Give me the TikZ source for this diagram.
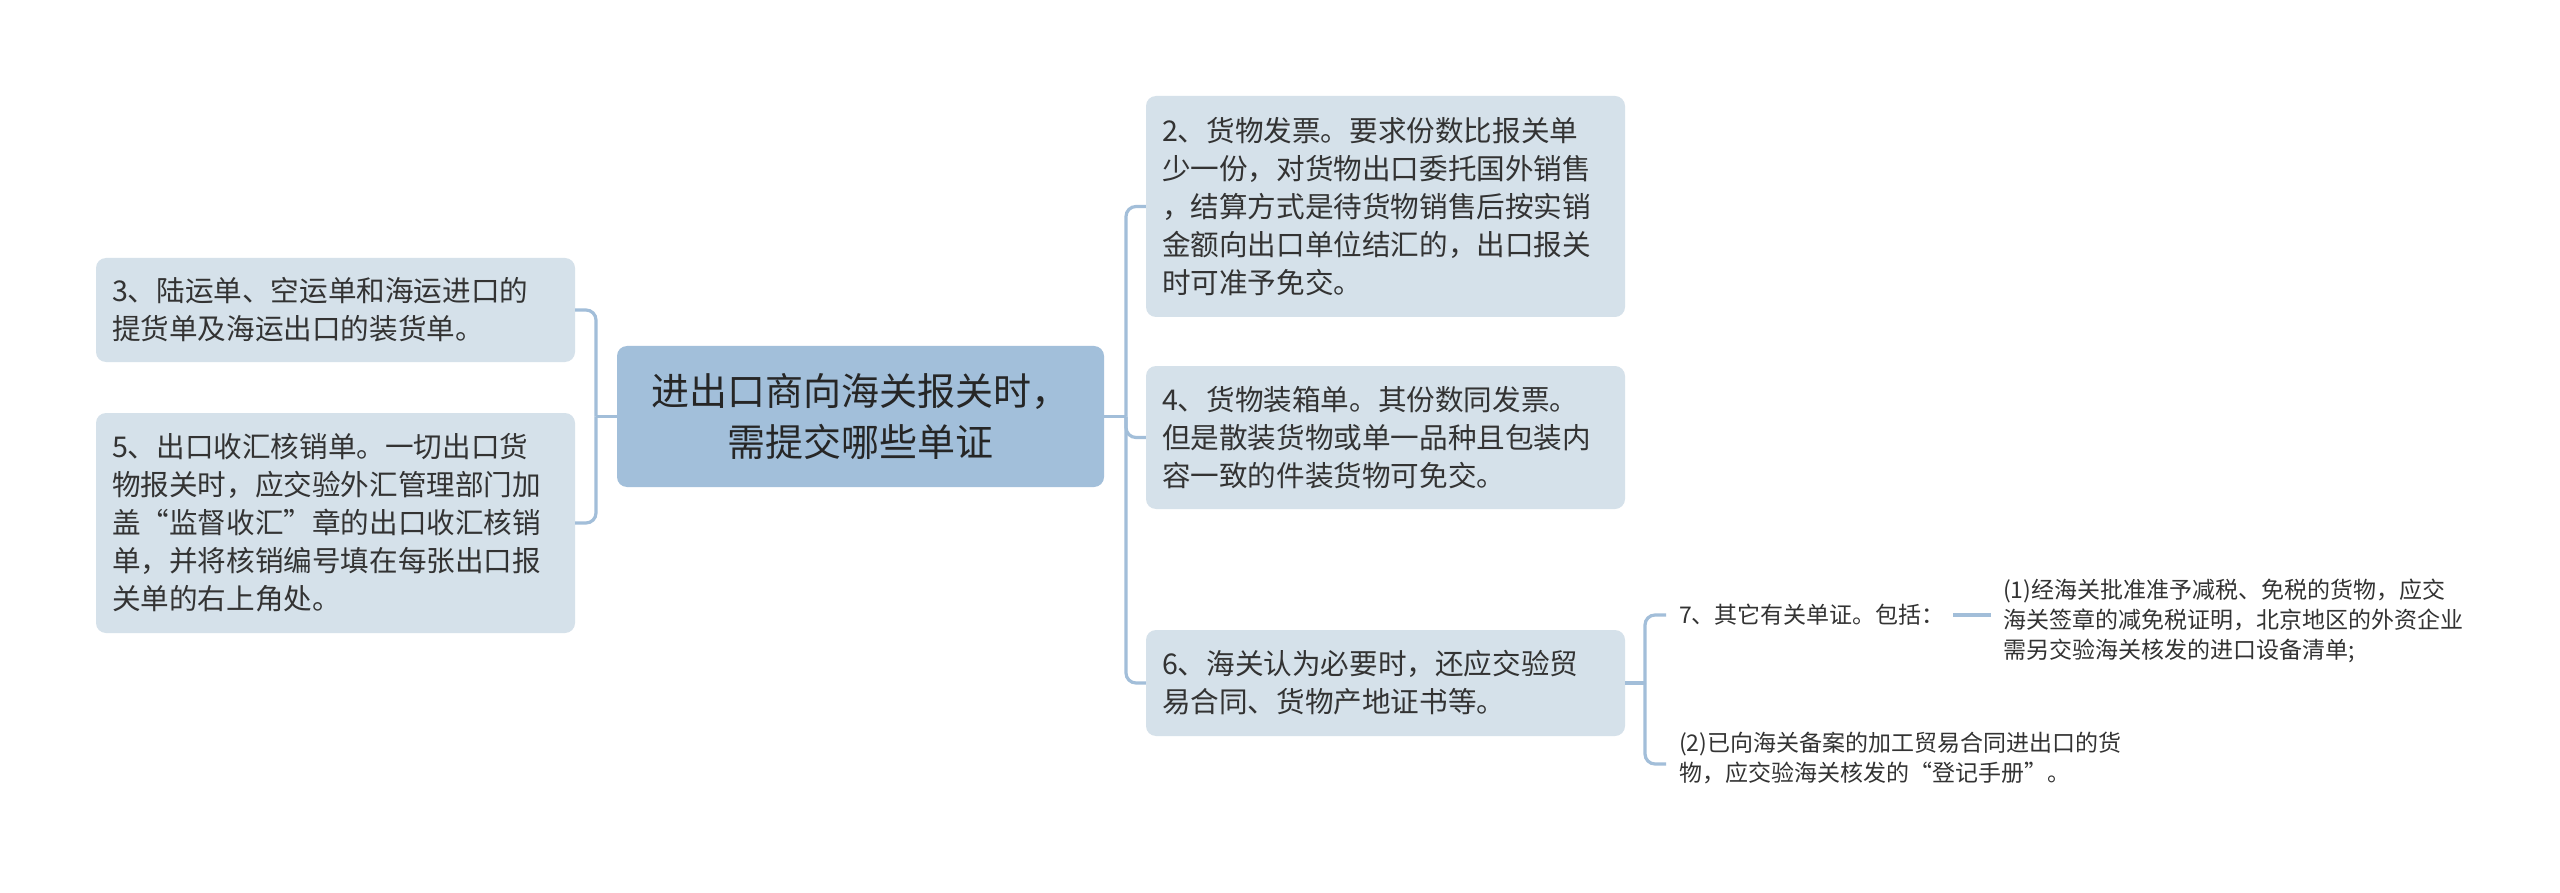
\documentclass[tikz,border=0pt]{standalone}
\usepackage{fontspec}
\setmainfont{Noto Sans CJK SC}
\XeTeXlinebreaklocale "zh"
\definecolor{nodefill}{HTML}{D5E1EA}
\definecolor{rootfill}{HTML}{A2BFDA}
\definecolor{linec}{HTML}{A2BED9}
\definecolor{textc}{HTML}{333333}
\tikzset{
  box/.style={rectangle, rounded corners=10pt, fill=nodefill, draw=none,
    inner xsep=16pt, inner ysep=0pt, align=left, text=textc,
    font=\fontsize{28.6pt}{38pt}\selectfont, text width=447pt,
    minimum width=479pt, minimum height=#1},
  rootbox/.style={rectangle, rounded corners=10pt, fill=rootfill, draw=none,
    inner sep=0pt, align=center, text=black!85,
    font=\fontsize{38pt}{51pt}\selectfont,
    minimum width=487pt, minimum height=141pt},
  small/.style={inner sep=0pt, align=left, text=textc,
    font=\fontsize{23pt}{30pt}\selectfont},
  conn/.style={draw=linec, line width=3.2pt, rounded corners=10pt}
}
\begin{document}
\begin{tikzpicture}[x=1pt,y=-1pt]
\useasboundingbox (0,0) rectangle (2560,893);
\fill[white] (0,0) rectangle (2560,893);

\node[rootbox] (root) at (860.5,416.5) {进出口商向海关报关时，\\需提交哪些单证};

\node[box=104pt] (n3) at (335.5,310) {3、陆运单、空运单和海运进口的\\提货单及海运出口的装货单。};
\node[box=220pt] (n5) at (335.5,523) {5、出口收汇核销单。一切出口货\\物报关时，应交验外汇管理部门加\\盖“监督收汇”章的出口收汇核销\\单，并将核销编号填在每张出口报\\关单的右上角处。};

\node[box=221pt] (n2) at (1385.5,206.5) {2、货物发票。要求份数比报关单\\少一份，对货物出口委托国外销售\\，结算方式是待货物销售后按实销\\金额向出口单位结汇的，出口报关\\时可准予免交。};
\node[box=143pt] (n4) at (1385.5,437.5) {4、货物装箱单。其份数同发票。\\但是散装货物或单一品种且包装内\\容一致的件装货物可免交。};
\node[box=106pt] (n6) at (1385.5,683) {6、海关认为必要时，还应交验贸\\易合同、货物产地证书等。};

\node[small, anchor=west] (n7) at (1679,615) {7、其它有关单证。包括：};
\node[small, anchor=west] (n71) at (2003,621) {(1)经海关批准准予减税、免税的货物，应交\\海关签章的减免税证明，北京地区的外资企业\\需另交验海关核发的进口设备清单;};
\node[small, anchor=west] (n72) at (1679,758) {(2)已向海关备案的加工贸易合同进出口的货\\物，应交验海关核发的“登记手册”。};

\coordinate (lb) at (596,416.5);
\coordinate (rb) at (1126,416.5);
\coordinate (b6) at (1645,683);

\draw[conn] (root.west) -- (lb);
\draw[conn] (lb) |- (n3.east);
\draw[conn] (lb) |- (n5.east);

\draw[conn] (root.east) -- (rb);
\draw[conn] (rb) |- (n2.west);
\draw[conn] (rb) |- (n4.west);
\draw[conn] (rb) |- (n6.west);

\draw[conn] (n6.east) -- (b6);
\draw[conn, shorten >=13pt] (b6) |- (n7.west);
\draw[conn, shorten >=13pt] (b6) |- ([yshift=-6pt]n72.west);

\draw[conn, shorten <=8pt, shorten >=12pt] (n7.east) -- (n7.east -| n71.west);
\end{tikzpicture}
\end{document}
